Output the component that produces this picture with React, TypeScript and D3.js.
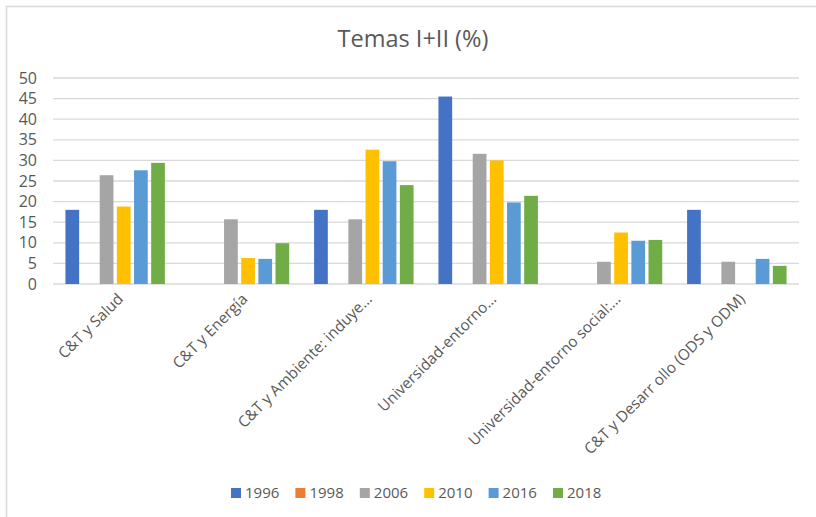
import React, { useEffect, useRef } from 'react';
import * as d3 from 'd3';

const categories = [
  'C&T y Salud',
  'C&T y Energía',
  'C&T y Ambiente: induye…',
  'Universidad-entorno…',
  'Universidad-entorno social:…',
  'C&T y Desarr ollo (ODS y ODM)',
];

const years = ['1996', '1998', '2006', '2010', '2016', '2018'];
const colors = ['#4472c4', '#ed7d31', '#a5a5a5', '#ffc000', '#5b9bd5', '#70ad47'];

// null = no bar
const v1996 = [18.0, null, 18.0, 45.5, null, 18.0];
const v1998 = [null, null, null, null, null, null];
const v2006 = [26.4, 15.7, 15.7, 31.6, 5.4, 5.4];
const v2010 = [18.8, 6.3, 32.6, 30.0, 12.5, null];
const v2016 = [27.6, 6.1, 29.8, 19.8, 10.5, 6.1];
const v2018 = [29.4, 9.9, 24.0, 21.4, 10.7, 4.4];

const series = [v1996, v1998, v2006, v2010, v2016, v2018];
const yTicks = [0, 5, 10, 15, 20, 25, 30, 35, 40, 45, 50];

const FONT = '"Open Sans", sans-serif';

const App = () => {
  const ref = useRef<SVGSVGElement>(null);

  useEffect(() => {
    const svg = d3.select(ref.current);
    svg.selectAll('*').remove();

    const margin = { top: 78, left: 53, right: 17, bottom: 233 };
    const W = 816, H = 517;
    const width = W - margin.left - margin.right;
    const height = H - margin.top - margin.bottom;

    svg.append('rect').attr('width', W).attr('height', H).attr('fill', '#fff');
    svg.append('rect')
      .attr('x', 6.5).attr('y', 6.5).attr('width', 830).attr('height', 530)
      .attr('fill', 'none').attr('stroke', '#d9d9d9').attr('stroke-width', 1.5);

    svg.append('text')
      .attr('x', 413).attr('y', 47)
      .attr('text-anchor', 'middle')
      .attr('font-family', FONT).attr('font-size', 23.5)
      .attr('fill', '#595959')
      .text('Temas I+II (%)');

    const g = svg.append('g').attr('transform', `translate(${margin.left},${margin.top})`);

    const x = d3.scaleBand().domain(categories).range([0, width]).paddingInner(0.2).paddingOuter(0.1);
    const x1 = d3.scaleBand().domain(years).range([0, x.bandwidth()]).paddingInner(0.2);
    const y = d3.scaleLinear().domain([0, 50]).range([height, 0]);

    g.append('g')
      .selectAll('line')
      .data(yTicks)
      .join('line')
      .attr('x1', 0).attr('x2', width)
      .attr('y1', d => y(d)).attr('y2', d => y(d))
      .attr('stroke', '#d9d9d9').attr('stroke-width', 1.3);

    g.append('g')
      .selectAll('text')
      .data(yTicks)
      .join('text')
      .attr('x', -16).attr('y', d => y(d))
      .attr('dy', '0.35em')
      .attr('text-anchor', 'end')
      .attr('font-family', FONT).attr('font-size', 16)
      .attr('fill', '#595959')
      .text(d => d);

    const groups = g.append('g')
      .selectAll('g')
      .data(categories)
      .join('g')
      .attr('transform', d => `translate(${x(d)},0)`);

    groups.selectAll('rect')
      .data((_, i) => years.map((yr, s) => ({ yr, s, v: series[s][i] })).filter(d => d.v != null))
      .join('rect')
      .attr('x', d => x1(d.yr)!)
      .attr('width', x1.bandwidth())
      .attr('y', d => y(d.v as number))
      .attr('height', d => height - y(d.v as number))
      .attr('fill', d => colors[d.s]);

    g.append('g')
      .selectAll('text')
      .data(categories)
      .join('text')
      .attr('transform', d => `translate(${x(d)! + x.bandwidth() / 2 + 9},${height + 16}) rotate(-45)`)
      .attr('text-anchor', 'end')
      .attr('font-family', FONT).attr('font-size', 15.3)
      .attr('fill', '#595959')
      .text(d => d);

    const legend = svg.append('g').attr('transform', 'translate(231,493)');
    const item = legend.selectAll('g')
      .data(years)
      .join('g')
      .attr('transform', (_, i) => `translate(${i * 64.4},0)`);
    item.append('rect')
      .attr('x', 0).attr('y', -5).attr('width', 10).attr('height', 10)
      .attr('fill', (_, i) => colors[i]);
    item.append('text')
      .attr('x', 14).attr('y', 0).attr('dy', '0.35em')
      .attr('font-family', FONT).attr('font-size', 15)
      .attr('fill', '#595959')
      .text(d => d);
  }, []);

  return <svg ref={ref} width={816} height={517} style={{ position: 'absolute', left: 0, top: 0 }} />;
};

export default App;
